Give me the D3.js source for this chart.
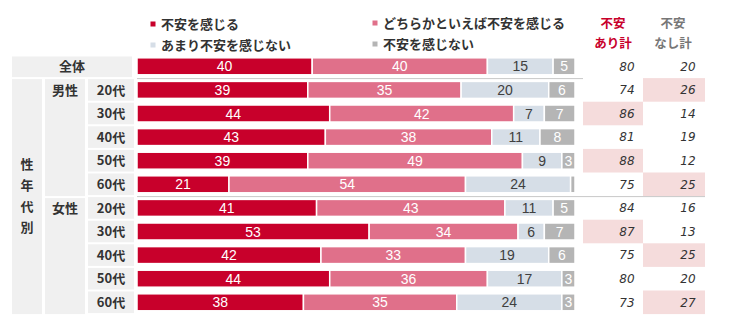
<!DOCTYPE html>
<html><head><meta charset="utf-8">
<script src="https://cdn.jsdelivr.net/npm/d3@7"></script>
<style>body{margin:0;background:#fff;}svg{display:block;}</style>
</head><body><div id="chart"></div>
<script>
const rowLabels = ["全体","20代","30代","40代","50代","60代","20代","30代","40代","50代","60代"];
const seriesNames = ["不安を感じる","どちらかといえば不安を感じる","あまり不安を感じない","不安を感じない"];
const feel     = [40,39,44,43,39,21,41,53,42,44,38];
const somewhat = [40,35,42,38,49,54,43,34,33,36,35];
const notMuch  = [15,20,7,11,9,24,11,6,19,17,24];
const notAtAll = [5,6,7,8,3,1,5,7,6,3,3];
const totalYes = [80,74,86,81,88,75,84,87,75,80,73];
const totalNo  = [20,26,14,19,12,25,16,13,25,20,27];
const hlYes = [0,0,1,0,1,0,0,1,0,0,0];
const hlNo  = [0,1,0,0,0,1,0,0,1,0,1];
const colors = ["#c8002b","#e0708a","#d6dee7","#b5b5b5"];
const labelColors = ["#fff","#fff","#404040","#fff"];

const W=730,H=336;
const svg=d3.select("#chart").append("svg").attr("width",W).attr("height",H);
const jp='"Noto Sans CJK JP","Noto Sans",sans-serif';

const x=d3.scaleLinear().domain([0,100]).range([137,575]);
const y=d3.scaleBand().domain(d3.range(rowLabels.length)).range([54.5,54.5+23.6*11]).paddingInner(0.28).paddingOuter(0.14);
const step=y.step();
const bandTop=i=>54.5+step*i;

// left label cells
const cellFill="#f0f0f0";
svg.append("rect").attr("x",12).attr("y",bandTop(0)+2).attr("width",120).attr("height",step-3).attr("fill",cellFill);
svg.append("rect").attr("x",12).attr("y",bandTop(1)+1).attr("width",30).attr("height",bandTop(11)-bandTop(1)-1).attr("fill",cellFill);
svg.append("rect").attr("x",45).attr("y",bandTop(1)+1).attr("width",40).attr("height",bandTop(6)-bandTop(1)-1).attr("fill",cellFill);
svg.append("rect").attr("x",45).attr("y",bandTop(6)+2).attr("width",40).attr("height",bandTop(11)-bandTop(6)-2).attr("fill",cellFill);
for(let i=1;i<rowLabels.length;i++){
  svg.append("rect").attr("x",88).attr("y",bandTop(i)+1).attr("width",46).attr("height",step-2).attr("fill",cellFill);
}
const lbl=svg.append("g").attr("font-family",jp).attr("font-size",13).attr("font-weight","bold").attr("fill","#333");
lbl.append("text").attr("x",72).attr("y",y(0)+y.bandwidth()/2).attr("dy","0.36em").attr("text-anchor","middle").text(rowLabels[0]);
for(let i=1;i<rowLabels.length;i++){
  lbl.append("text").attr("x",111).attr("y",y(i)+y.bandwidth()/2).attr("dy","0.36em").attr("text-anchor","middle").text(rowLabels[i]);
}
lbl.append("text").attr("x",65).attr("y",y(1)+y.bandwidth()/2).attr("dy","0.36em").attr("text-anchor","middle").text("男性");
lbl.append("text").attr("x",65).attr("y",y(6)+y.bandwidth()/2).attr("dy","0.36em").attr("text-anchor","middle").text("女性");
const vert=["性","年","代","別"];
const vc=(bandTop(1)+bandTop(11))/2;
vert.forEach((c,k)=>{
  lbl.append("text").attr("x",27).attr("y",vc+(k-1.5)*21).attr("dy","0.36em").attr("text-anchor","middle").text(c);
});

// right highlights
const hl=svg.append("g");
for(let i=0;i<rowLabels.length;i++){
  if(hlYes[i]) hl.append("rect").attr("x",583).attr("y",bandTop(i)).attr("width",60).attr("height",step).attr("fill","#f5dcdc");
  if(hlNo[i]) hl.append("rect").attr("x",643).attr("y",bandTop(i)).attr("width",62).attr("height",step).attr("fill","#f5dcdc");
}

// separators
svg.append("line").attr("x1",137).attr("x2",583).attr("y1",bandTop(1)+0.5).attr("y2",bandTop(1)+0.5).attr("stroke","#c8c8c8").attr("stroke-width",1);
svg.append("line").attr("x1",137).attr("x2",705).attr("y1",bandTop(6)+0.5).attr("y2",bandTop(6)+0.5).attr("stroke","#c8c8c8").attr("stroke-width",1);

// bars
const series=[feel,somewhat,notMuch,notAtAll];
const bars=svg.append("g");
const labels=svg.append("g").attr("font-family","'Liberation Sans',Arial,sans-serif").attr("font-size",14).attr("text-anchor","middle");
for(let i=0;i<rowLabels.length;i++){
  let acc=0;
  series.forEach((s,k)=>{
    const v=s[i];
    bars.append("rect").attr("x",x(acc)).attr("y",y(i)).attr("width",x(acc+v)-x(acc)).attr("height",y.bandwidth())
      .attr("fill",colors[k]).attr("stroke","#fff").attr("stroke-width",1.5);
    if(v>=2){
      labels.append("text").attr("x",(x(acc)+x(acc+v))/2).attr("y",y(i)+y.bandwidth()/2).attr("dy","0.36em")
        .attr("fill",labelColors[k]).text(v);
    }
    acc+=v;
  });
}

// totals
const tot=svg.append("g").attr("font-family","'DejaVu Sans',sans-serif").attr("font-size",12).attr("font-style","italic").attr("fill","#333").attr("text-anchor","middle");
for(let i=0;i<rowLabels.length;i++){
  tot.append("text").attr("x",627).attr("y",y(i)+y.bandwidth()/2).attr("dy","0.36em").text(totalYes[i]);
  tot.append("text").attr("x",688).attr("y",y(i)+y.bandwidth()/2).attr("dy","0.36em").text(totalNo[i]);
}

// headers
const hd=svg.append("g").attr("font-family",jp).attr("font-size",12.5).attr("font-weight","bold").attr("text-anchor","middle");
hd.append("text").attr("x",613).attr("y",23).attr("dy","0.36em").attr("fill","#c8002b").text("不安");
hd.append("text").attr("x",613).attr("y",43).attr("dy","0.36em").attr("fill","#c8002b").text("あり計");
hd.append("text").attr("x",673).attr("y",23).attr("dy","0.36em").attr("fill","#777").text("不安");
hd.append("text").attr("x",673).attr("y",43).attr("dy","0.36em").attr("fill","#777").text("なし計");

// legend
const legPos=[[153,24],[375,23],[153,45],[375,44]];
const lg=svg.append("g").attr("font-family",jp).attr("font-size",13).attr("font-weight","bold").attr("fill","#333");
seriesNames.forEach((n,k)=>{
  const [lx,ly]=legPos[k];
  lg.append("rect").attr("x",lx-2.5).attr("y",ly-2.5).attr("width",5).attr("height",5).attr("fill",colors[k]);
  lg.append("text").attr("x",lx+8).attr("y",ly).attr("dy","0.36em").text(n);
});
</script></body></html>
